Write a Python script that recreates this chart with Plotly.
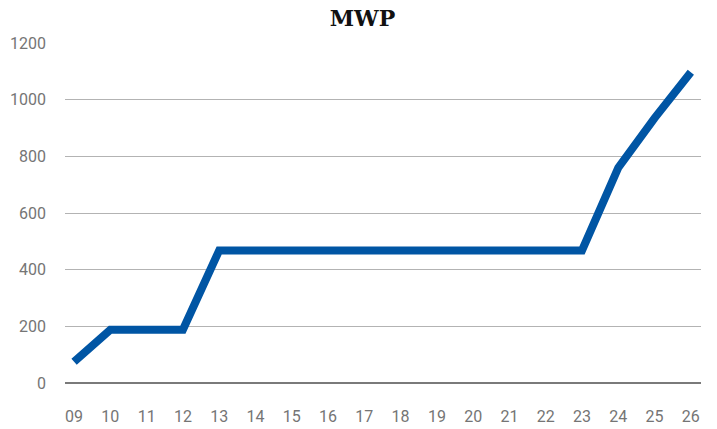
import plotly.graph_objects as go

categories = ["09", "10", "11", "12", "13", "14", "15", "16", "17", "18",
              "19", "20", "21", "22", "23", "24", "25", "26"]
mwp = [75, 188, 188, 188, 468, 468, 468, 468, 468, 468,
       468, 468, 468, 468, 468, 760, 935, 1097]
y_ticks = [0, 200, 400, 600, 800, 1000, 1200]

fig = go.Figure()
fig.add_trace(go.Scatter(
    x=list(range(len(categories))), y=mwp, mode="lines",
    line=dict(color="#0055a4", width=8),
    hoverinfo="skip", showlegend=False,
))

# page body has an 8px default margin, so the figure is sized to fit after it
fig.update_layout(
    width=709, height=421,
    margin=dict(l=57, r=16, t=35, b=46),
    paper_bgcolor="white", plot_bgcolor="white",
    title=dict(text="<b>MWP</b>", x=0.5, xanchor="center", y=0.975, yanchor="middle",
               font=dict(family="DejaVu Serif", size=22, color="#111111")),
    font=dict(family="Roboto", size=16, color="#757575"),
)
fig.update_xaxes(
    tickmode="array", tickvals=list(range(len(categories))), ticktext=categories,
    range=[-0.25, len(categories) - 1 + 0.28],
    showgrid=False, zeroline=False, showline=False, ticks="",
    ticklabelstandoff=22, automargin=False,
)
fig.update_yaxes(
    range=[0, 1200], tickvals=y_ticks,
    showgrid=True, gridcolor="#b3b3b3", gridwidth=1,
    zeroline=True, zerolinecolor="#7a7a7a", zerolinewidth=2,
    showline=False, ticks="", ticklabelstandoff=18, automargin=False,
)

fig.write_html("out.html")
